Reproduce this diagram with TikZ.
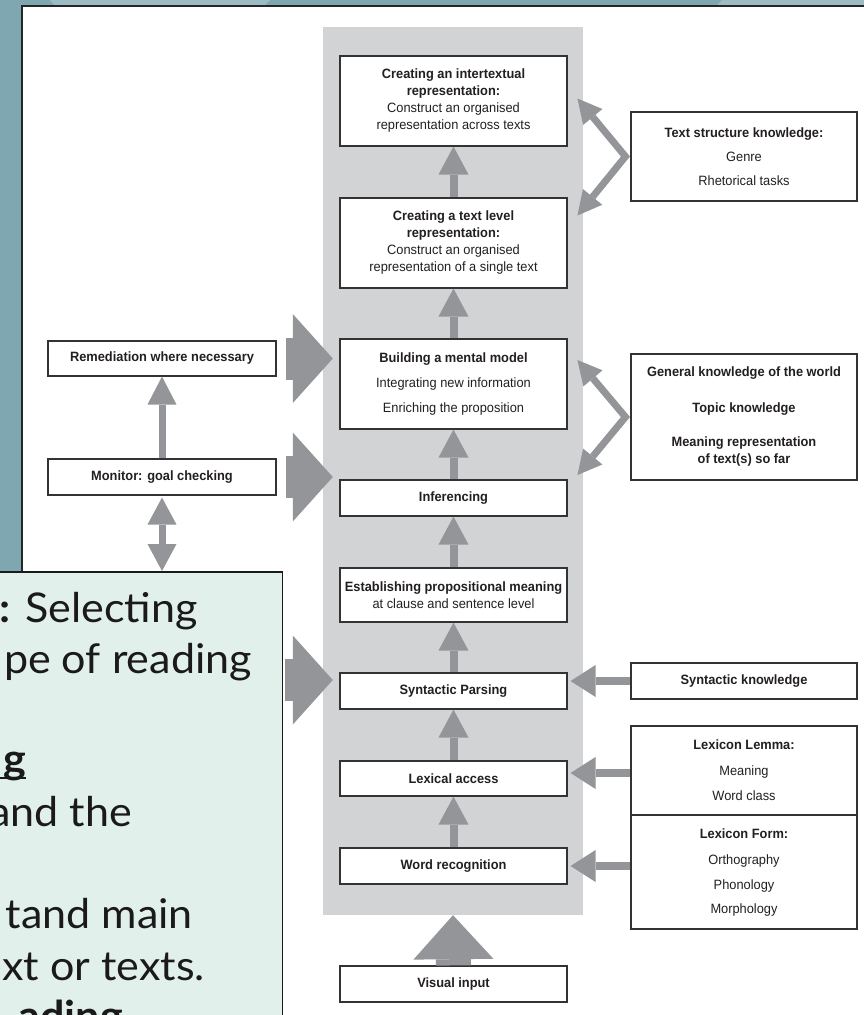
\documentclass[tikz,border=0pt]{standalone}
\usepackage{fontspec}
\usepackage{xcolor}
\usetikzlibrary{shapes.geometric, arrows.meta, positioning, calc}
\newfontfamily\diagfont[FakeStretch=0.95]{Liberation Sans}
\newfontfamily\ovlfont[FakeStretch=1.05]{Lato}
\definecolor{bgteal}{HTML}{7FA7B1}
\definecolor{bgteallight}{HTML}{9CBCC4}
\definecolor{colgray}{HTML}{D1D3D4}
\definecolor{arrgray}{HTML}{939598}
\definecolor{boxline}{HTML}{333333}
\definecolor{inktext}{HTML}{231F20}
\definecolor{mint}{HTML}{E2F0EB}
\definecolor{ovlink}{HTML}{1A1A1A}

\begin{document}
\begin{tikzpicture}[x=1pt, y=-1pt,
  proc/.style={draw=boxline, fill=white, line width=1.1pt, minimum width=227pt, inner sep=0pt, align=center, text=inktext, font=\diagfont\fontsize{13.5}{17}\selectfont},
  flow/.style={arrgray, line width=8pt, -{Triangle[width=30pt, length=28pt, line width=0pt]}},
  sideflow/.style={arrgray, line width=8pt, -{Triangle[width=32pt, length=25pt, line width=0pt]}},
  diagflow/.style={arrgray, line width=7pt, line join=miter, {Triangle[width=25pt, length=24pt, line width=0pt]}-{Triangle[width=25pt, length=24pt, line width=0pt]}},
  bigflow/.style={arrgray, line width=42pt, -{Triangle[width=89pt, length=40pt, line width=0pt]}},
  ovltext/.style={anchor=base east, inner sep=0pt, text=ovlink, font=\ovlfont\fontsize{41}{51}\selectfont}
]
\useasboundingbox (0,0) rectangle (864,1015);

% frame behind the figure
\fill[bgteal] (0,0) rectangle (864,1015);
\fill[bgteallight] (50,0) -- (270,0) -- (264,6) -- (55,6) -- cycle;
\fill[bgteallight] (722,0) -- (864,0) -- (864,6) -- (716,6) -- cycle;
\fill[white] (22,6) rectangle (864,1015);
\draw[line width=1.5pt, black!85] (22,1015) -- (22,6) -- (864,6);

% central column
\node[fill=colgray, minimum width=260pt, minimum height=888pt, inner sep=0pt] (col) at (453,471) {};

\node[proc, minimum height=90pt] (intertext) at (453.5,101) {\textbf{Creating an intertextual}\\ \textbf{representation:}\\ Construct an organised\\ representation across texts};
\node[proc, minimum height=90pt] (textrep) at (453.5,243) {\textbf{Creating a text level}\\ \textbf{representation:}\\ Construct an organised\\ representation of a single text};
\node[proc, minimum height=90pt] (mental) at (453.5,384) {\textbf{Building a mental model}\\[8pt] Integrating new information\\[8pt] Enriching the proposition};
\node[proc, minimum height=36pt] (infer) at (453.5,498) {\textbf{Inferencing}};
\node[proc, minimum height=54pt] (prop) at (453.5,595) {\textbf{Establishing propositional meaning}\\ at clause and sentence level};
\node[proc, minimum height=36pt] (parse) at (453.5,691) {\textbf{Syntactic Parsing}};
\node[proc, minimum height=35pt] (lex) at (453.5,778.5) {\textbf{Lexical access}};
\node[proc, minimum height=36pt] (word) at (453.5,866) {\textbf{Word recognition}};
\node[proc, minimum height=36pt] (visual) at (453.5,984) {\textbf{Visual input}};

% knowledge sources
\node[proc, minimum width=226pt, minimum height=89pt] (tsk) at (744,156.5) {\textbf{Text structure knowledge:}\\[7pt] Genre\\[7pt] Rhetorical tasks};
\node[proc, minimum width=226pt, minimum height=126pt] (gk) at (744,417) {\textbf{General knowledge of the world}\\[19pt] \textbf{Topic knowledge}\\[17pt] \textbf{Meaning representation}\\ \textbf{of text(s) so far}};
\node[proc, minimum width=226pt, minimum height=36pt] (synk) at (744,681) {\textbf{Syntactic knowledge}};
\node[proc, minimum width=226pt, minimum height=89pt] (lemma) at (744,770.5) {\textbf{Lexicon Lemma:}\\[9pt] Meaning\\[8pt] Word class};
\node[proc, minimum width=226pt, minimum height=114pt] (form) at (744,872) {\textbf{Lexicon Form:}\\[9pt] Orthography\\[8pt] Phonology\\[7pt] Morphology};

% control boxes
\node[proc, minimum width=228pt, minimum height=35pt] (rem) at (162,358.5) {\textbf{Remediation where necessary}};
\node[proc, minimum width=228pt, minimum height=36pt] (mon) at (162,477) {\textbf{Monitor: goal checking}};

% upward flow
\foreach \a/\b in {word/lex, lex/parse, parse/prop, prop/infer, infer/mental, mental/textrep, textrep/intertext}
  \draw[flow] (\a.north) -- (\b.south);
\draw[arrgray, line width=35pt, -{Triangle[width=80pt, length=44pt, line width=0pt]}] (visual.north) -- (col.south);

% knowledge into the column
\draw[sideflow] (synk.west) -- ($(parse.east |- synk.west)+(3,0)$);
\draw[sideflow] (lemma.west |- 0,773) -- ($(lex.east |- 0,773)+(3,0)$);
\draw[sideflow] (form.west |- word.east) -- ($(word.east)+(3,0)$);
\draw[diagflow] ($(tsk.west)+(-53,-58)$) -- ($(tsk.west)+(-5,0)$) -- ($(tsk.west)+(-53,59)$);
\draw[diagflow] ($(gk.west)+(-53,-57)$) -- ($(gk.west)+(-5,0)$) -- ($(gk.west)+(-53,58)$);

% overlay panel
\node[draw=ovlink, fill=mint, line width=1.5pt, minimum width=320pt, minimum height=470pt, anchor=north east, inner sep=0pt] (ovl) at (283,571) {};
\coordinate (ovlout) at (285,680);
\begin{scope}
\clip (ovl.north west) rectangle (ovl.south east);
\node[ovltext] (l1) at (198,622) {\textbf{:} Selecting};
\node[ovltext] (l2) at (252,673) {pe of reading};
\node[ovltext] (l3) at (26,773) {\textbf{g}};
\draw[ovlink, line width=2.5pt] (-10,778) -- ($(l3.base east)+(0,5)$);
\node[ovltext] (l4) at (132,826) {and the};
\node[ovltext] (l5) at (193,928) {tand main};
\node[ovltext] (l6) at (205,980) {ext or texts.};
\node[ovltext] (l7) at (123,1030) {\textbf{ading}};
\end{scope}

% control into the column
\draw[bigflow] ($(rem.east)+(9,0)$) -- ($(col.west |- rem.east)+(10,0)$);
\draw[bigflow] ($(mon.east)+(9,0)$) -- ($(col.west |- mon.east)+(10,0)$);
\draw[bigflow] (ovlout) -- ($(col.west |- ovlout)+(10,0)$);
\draw[arrgray, line width=7pt, -{Triangle[width=29pt, length=28pt, line width=0pt]}] (mon.north) -- (rem.south);
\draw[arrgray, line width=7pt, {Triangle[width=29pt, length=27pt, line width=0pt]}-{Triangle[width=29pt, length=27pt, line width=0pt]}] ($(mon.south)+(0,2)$) -- (mon.south |- ovl.north);
\end{tikzpicture}
\end{document}
